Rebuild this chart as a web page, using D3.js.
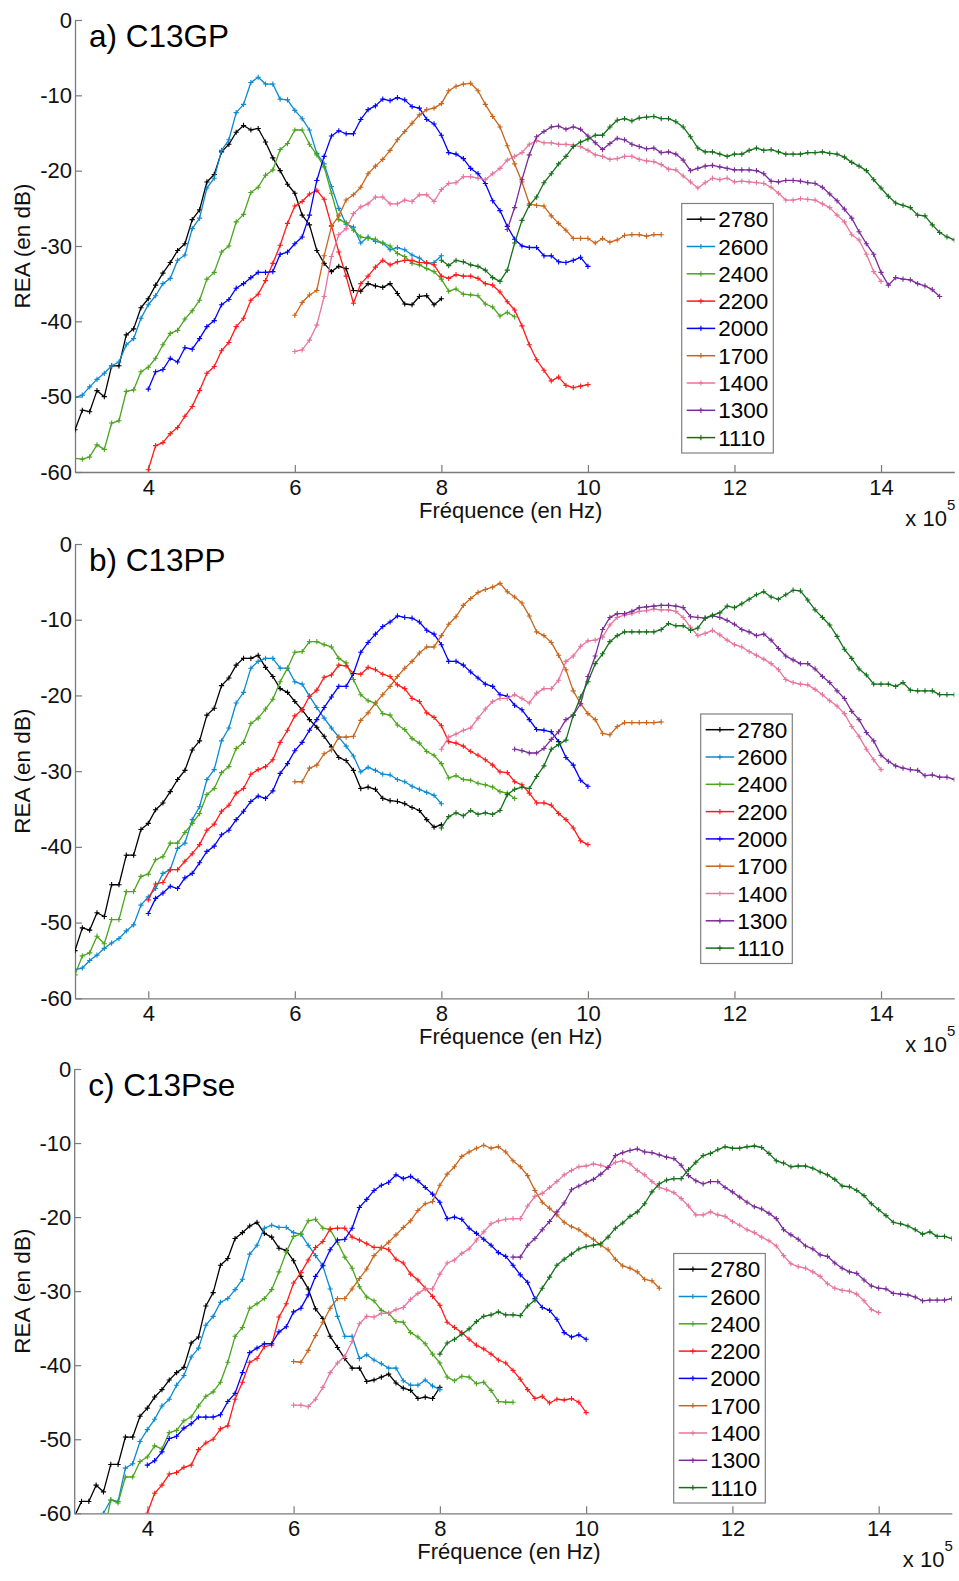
<!DOCTYPE html>
<html>
<head>
<meta charset="utf-8">
<script src="https://cdn.jsdelivr.net/npm/d3@7"></script>
<style>
  html, body { margin: 0; padding: 0; background: #fff; }
  svg { display: block; font-family: Arial, "Liberation Sans", sans-serif; }
</style>
</head>
<body>
<div id="chart"></div>
<script>
// series labels and colours, same order in every panel
const seriesNames = ['2780', '2600', '2400', '2200', '2000', '1700', '1400', '1300', '1110'];
const seriesColors = ['#000000', '#0a8ad2', '#4aa51c', '#ff1a1a', '#0000ff', '#c8651a', '#e8759a', '#7a2a9a', '#15701a'];

const xTicks = [4, 6, 8, 10, 12, 14];
const yTicks = [0, -10, -20, -30, -40, -50, -60];
const freqStep = 0.1; // measurements every 10 kHz (x 10^5 Hz axis)

// first frequency of each series (x 10^5 Hz)
const startsA = [3.0, 3.0, 3.0, 4.0, 4.0, 6.0, 6.0, 8.9, 8.0];
const startsB = [3.0, 3.0, 3.0, 4.0, 4.0, 6.0, 8.0, 9.0, 8.0];
const startsC = [3.0, 3.4, 3.4, 4.0, 4.0, 6.0, 6.0, 9.0, 8.0];

// panel a) C13GP, REA in dB
const a2780 = [-54.4,-51.8,-52,-49.2,-50,-45.9,-45.9,-41.8,-41,-38.2,-37,-35.2,-33.6,-32.2,-30.6,-29.7,-26.5,-25.2,-21.5,-20.5,-17.5,-16.5,-14.9,-14,-14.6,-14.4,-16.2,-18.3,-20,-21.8,-23,-25.9,-27.2,-30.6,-32.3,-33.4,-32.7,-33,-35.9,-36,-35,-35.3,-35.5,-35,-36.3,-37.7,-37.8,-36.7,-36.6,-37.8,-37];
const a2600 = [-50.1,-49.8,-48.7,-47.7,-46.9,-45.9,-45.4,-43.1,-42.3,-39.6,-37.8,-36.6,-35,-34.3,-31.9,-31.2,-27.7,-26.3,-22.3,-21,-17.3,-15.9,-12.3,-11.2,-8.3,-7.6,-8.5,-8.5,-10.5,-10.6,-12,-13.1,-14.6,-17.7,-19.1,-22.1,-25,-27.1,-27.5,-29.6,-28.8,-29.4,-29.6,-30.5,-30.2,-30.5,-31.2,-31.6,-32.3,-32.2,-31.3];
const a2400 = [-58.2,-58.3,-58,-56.4,-57,-53.5,-53.2,-49.3,-49.1,-46.7,-46.1,-44.9,-43.1,-41.6,-41.2,-39.7,-38.6,-37.2,-34.4,-33.5,-30.8,-30,-26.8,-25.8,-22.9,-22.2,-20.6,-19.9,-17.2,-16.4,-14.6,-14.6,-16.5,-17.9,-19.5,-23,-26.5,-26.9,-27.9,-28.8,-29,-29.1,-29.6,-30,-31,-31.4,-32.3,-32.5,-33,-33.4,-34.4,-36,-35.7,-36.4,-36.5,-36.6,-37.7,-38.1,-39.3,-38.8,-39.4];
const a2200 = [-59.7,-56.5,-56.1,-54.9,-54.1,-52.6,-51.3,-49.2,-46.9,-46,-43.9,-42.8,-40.7,-39.6,-37.2,-36.4,-34.6,-32.3,-29.9,-27,-24.7,-24.1,-23.1,-22.6,-23.8,-27.3,-30.8,-34,-37.6,-35,-34,-32.8,-31.9,-32.5,-32.1,-31.9,-31.9,-32.2,-32.2,-32.5,-34,-34.3,-33.8,-34,-34,-34.3,-35,-35.2,-36.1,-37.4,-38.5,-40.6,-43.1,-45.1,-46.5,-47.9,-47.4,-48.5,-48.8,-48.6,-48.4];
const a2000 = [-49,-46.7,-46.4,-44.9,-45.4,-43.5,-43.7,-42.3,-40.7,-39.9,-37.8,-37.1,-35.6,-35,-34.2,-33.5,-33.5,-33.4,-31.1,-30.8,-29.7,-28.8,-25.9,-21.3,-18.1,-15.4,-14.7,-15.1,-15.1,-13.2,-11.9,-11.4,-10.5,-10.7,-10.3,-10.6,-11.5,-11.7,-13.2,-13.8,-15.3,-17.6,-17.8,-18.4,-19.7,-20.4,-21.7,-24,-25.3,-27.4,-29.1,-30,-30.2,-30.2,-31.3,-31.3,-32.1,-32.2,-31.9,-31.5,-32.7];
const a1700 = [-39.2,-37.5,-36.5,-35.9,-31.3,-27.4,-26,-23.9,-23.2,-22.2,-20.4,-19.4,-18.5,-17.3,-15.9,-14.8,-13.7,-12.6,-11.9,-11.7,-11.1,-9.4,-8.8,-8.5,-8.4,-9.4,-11.2,-12.8,-14.2,-16.7,-19.1,-21.5,-24.4,-24.6,-24.7,-26,-27,-27.9,-29,-29,-29,-29.6,-29,-29.5,-29.2,-28.6,-28.5,-28.5,-28.7,-28.5,-28.5];
const a1400 = [-44,-43.8,-42.5,-40.5,-36.7,-31.4,-28.5,-27.7,-25.7,-24.8,-24.4,-23.5,-23.5,-24.4,-24.4,-23.9,-24.1,-23.2,-23.2,-24.1,-22.5,-21.7,-21.6,-20.8,-20.8,-21,-21.2,-20.4,-19.7,-18.6,-18.1,-17.6,-16.5,-16,-16.3,-16.3,-16.5,-16.5,-16.6,-16.8,-17.3,-17.9,-18.1,-18.5,-18.4,-18.1,-18.1,-18.5,-18.7,-18.8,-19.2,-19.8,-19.9,-20.7,-21.5,-22.3,-21.6,-21,-21.2,-21,-21.5,-21.4,-21.5,-21.6,-21.7,-22.2,-23,-23.9,-23.9,-23.7,-23.8,-23.9,-24.4,-24.9,-25.9,-26.8,-28.5,-29.2,-31.1,-33.4,-34.7];
const a1300 = [-27.8,-24.9,-21.2,-17.9,-15.5,-14.8,-14.2,-14.1,-14.5,-14.2,-14.5,-15.4,-16.3,-17.2,-16.4,-15.7,-15.9,-16.5,-16.8,-17.1,-17,-17.6,-17.5,-17.8,-18.6,-20,-19.7,-19.4,-19.3,-19.5,-19.7,-19.9,-19.9,-19.9,-20,-20.4,-21.4,-21.5,-21.3,-21.3,-21.4,-21.6,-21.7,-22.2,-23.1,-24,-25.1,-26.3,-28.1,-29.7,-31.1,-33.5,-35.2,-34.2,-34.4,-34.5,-35,-35.3,-35.8,-36.7];
const a1110 = [-31.9,-32.6,-31.9,-32.1,-32.5,-32.7,-33.2,-34.2,-34.7,-33.2,-29.6,-26.6,-24.6,-23.5,-21.6,-20.4,-19.1,-18.1,-16.8,-16.2,-15.8,-15.3,-15.3,-14.2,-13.3,-13.1,-13.4,-13,-12.9,-12.8,-13.1,-13.1,-13.5,-14.2,-15.5,-17,-17.5,-17.5,-17.8,-18.1,-17.8,-17.8,-17.3,-17,-17.3,-17.2,-17.5,-17.8,-17.8,-17.8,-17.6,-17.6,-17.5,-17.7,-17.8,-18.2,-18.9,-19.4,-20,-21.2,-22.3,-23.4,-24.3,-24.6,-24.9,-25.9,-26,-27.2,-28.2,-28.8,-29.2];

// panel b) C13PP
const b2780 = [-53.7,-50.7,-51,-48.7,-49.2,-45,-45,-41.1,-41.1,-37.7,-36.9,-35.1,-34.2,-32.7,-31.1,-29.9,-27.2,-26,-22.6,-21.7,-18.7,-17.7,-16,-15.1,-15.1,-14.7,-16.3,-17.5,-19.1,-19.6,-20.8,-21.9,-23.2,-24.2,-25.4,-26.8,-28.2,-28.6,-29.9,-32.3,-32.1,-32.4,-33.6,-33.9,-34,-34.3,-34.8,-35.2,-36.4,-37.4,-37.1];
const b2600 = [-56.2,-56,-55,-54.3,-53.4,-52.7,-52.1,-51.1,-50.3,-47.7,-46.6,-45.5,-43.5,-43,-40.2,-39.5,-36.4,-34.7,-31.1,-29.8,-26,-24.3,-21,-19.6,-16.4,-15.5,-15.1,-15.1,-16.4,-16.4,-18.2,-18.5,-20.1,-21.6,-23,-24.3,-25.5,-26.7,-28,-30.1,-29.5,-29.9,-30.4,-30.5,-31.1,-31.4,-32,-32.4,-32.8,-33.2,-34.3];
const b2400 = [-56.9,-54.4,-54,-51.8,-52.8,-49.6,-49.6,-45.9,-45.9,-43.9,-43.6,-41.7,-41.3,-39.5,-39.5,-38.1,-36.9,-35.6,-33.1,-32.3,-30.2,-29.4,-27,-26.2,-23.7,-23,-21.8,-20.5,-18.2,-16.4,-14.3,-14.2,-12.9,-12.9,-13.3,-13.6,-15.1,-15.7,-17.9,-19.9,-20.7,-21,-22.4,-22.6,-23.9,-24.5,-25.7,-26.3,-27.4,-27.9,-29,-30.9,-30.6,-31.1,-31.2,-31.6,-31.8,-32.1,-32.7,-32.9,-33.6];
const b2200 = [-47,-44.9,-44.7,-43,-43,-41.9,-40.9,-39.7,-37.8,-37,-35.3,-34.5,-32.9,-32.3,-30.4,-29.8,-29.4,-28.5,-26.2,-24.6,-22.7,-21.9,-20.1,-19.3,-17.6,-17.3,-16,-16.1,-17.1,-17.2,-16.3,-16.6,-17.2,-17.5,-18.6,-19.1,-20.4,-20.8,-22.3,-22.9,-24,-26.1,-26.3,-26.7,-27.4,-27.9,-28.5,-29.2,-30.1,-30.2,-31.4,-31.8,-32.9,-34.2,-34.2,-34.5,-35.6,-36.4,-37.5,-39.2,-39.7];
const b2000 = [-48.8,-46.8,-46.1,-45.2,-45.5,-44.1,-43.5,-42.1,-40.6,-39.9,-38.4,-37.8,-36.4,-35.3,-34,-33.3,-33.6,-32.6,-30.3,-29,-27.3,-26.2,-24.6,-23.2,-21.6,-20.2,-18.8,-18.8,-17.1,-14.3,-13,-11.9,-10.9,-10.3,-9.5,-9.7,-9.8,-10.3,-11.4,-11.9,-13.3,-15.5,-15.5,-16,-16.9,-17.7,-18.5,-18.8,-19.9,-20.1,-21.3,-21.9,-23.2,-24.5,-24.6,-24.8,-26.1,-28.2,-29.2,-31.2,-32];
const b1700 = [-31.4,-31.4,-29.6,-29.2,-27.7,-27.2,-25.5,-25.5,-25.4,-23.3,-22.3,-21,-19.9,-18.8,-17.5,-16.4,-15.5,-14.4,-13.6,-13.6,-12.1,-10.6,-9.6,-8.1,-7.2,-6.4,-6,-5.7,-5.2,-6.3,-7,-7.8,-9.5,-11.6,-12.1,-13,-14.7,-16.6,-19.4,-21.1,-22.4,-23.2,-25,-25.2,-24.1,-23.6,-23.6,-23.6,-23.6,-23.6,-23.5];
const b1400 = [-27.1,-25.5,-25.1,-24.6,-24.3,-23,-21.8,-20.8,-20.4,-20.4,-19.9,-20.4,-21,-19.7,-19.1,-19.1,-18,-15.5,-14.8,-13.5,-12.8,-12.7,-12.3,-10.7,-9.7,-9.4,-9.2,-8.9,-8.8,-8.6,-8.7,-8.7,-8.9,-9.7,-11,-12.1,-11.8,-11.4,-12,-12.7,-13.3,-13.6,-14.2,-14.7,-15.2,-15.8,-16.6,-17.9,-18.3,-18.5,-18.6,-19.2,-19.9,-20.7,-21.4,-22.4,-24.1,-25.4,-27.1,-28.5,-29.8];
const b1300 = [-27.1,-27.3,-27.6,-27.6,-27,-25.8,-24.8,-23.2,-22.6,-21.1,-17.5,-14.8,-11.3,-9.7,-9.2,-9.2,-8.9,-8.4,-8.3,-8.2,-8.1,-8.1,-8.2,-8.4,-9.6,-9.7,-9.8,-9.5,-9.7,-10.1,-10.6,-11.3,-11.6,-12.1,-11.9,-12.7,-13.8,-14.8,-15.3,-15.8,-15.8,-16.5,-17.5,-18.3,-19.4,-20.4,-22.1,-23.2,-24.9,-26,-27.9,-28.7,-29.3,-29.6,-29.8,-29.9,-30.6,-30.5,-30.8,-30.8,-31.1];
const b1110 = [-37.5,-36,-35.5,-35.9,-35.2,-35.7,-35.5,-35.7,-35.2,-33.1,-32.4,-32.1,-32.3,-30.7,-29.3,-27.1,-26.5,-25.9,-22.6,-20.2,-18.2,-15.8,-14.5,-12.9,-12.1,-11.6,-11.6,-11.6,-11.6,-11.6,-11.3,-10.5,-10.8,-10.8,-11.4,-11.1,-9.8,-9.4,-9.1,-8.2,-8.4,-7.9,-7.3,-6.7,-6.3,-7,-7.3,-6.7,-6.1,-6.2,-7.4,-8.7,-9.7,-10.7,-12.2,-13.9,-15.1,-16.5,-17.3,-18.5,-18.5,-18.5,-18.8,-18.3,-19.3,-19.4,-19.4,-19.4,-19.9,-19.9,-19.9];

// panel c) C13Pse
const c2780 = [-60.5,-58.4,-58.4,-56.2,-57.1,-53.4,-53.4,-49.7,-49.7,-46.9,-45.8,-44.3,-43.3,-42,-41,-40.3,-37,-36.2,-32,-30.2,-26.5,-25.6,-22.9,-22.1,-21.2,-20.7,-22.2,-22.7,-24.2,-24.5,-25.9,-28,-29.7,-32.4,-33.7,-36.1,-37.6,-39.1,-40.4,-40.4,-42.2,-42,-41.6,-41.2,-42.4,-43.1,-43.4,-44.5,-44.3,-44.5,-43];
const c2600 = [-60,-58.2,-58.4,-53.9,-53.3,-50.3,-48.7,-47.3,-45.5,-44.6,-42.7,-41.4,-38.9,-37.7,-34.6,-33.4,-31.5,-31,-29.8,-28.4,-25,-23.8,-21.5,-21.1,-21.4,-21.4,-22.1,-22.3,-23.8,-25.2,-26.6,-29.7,-33.4,-36.1,-36.1,-39.1,-38.6,-39.3,-39.8,-40.4,-40.4,-42.1,-42.7,-42.7,-42,-42.8,-43.3];
const c2400 = [-63,-58.2,-58.6,-55.1,-55.1,-53,-52.4,-50.9,-51.3,-49.1,-48.8,-47.5,-47,-45.5,-44.2,-43.6,-42.3,-39.6,-36.1,-34.9,-32.3,-31.7,-31,-29.8,-27.4,-24.7,-22.6,-22.3,-20.5,-20.3,-21.5,-21.7,-23.4,-25.4,-26.9,-29.4,-30.8,-31.3,-32.6,-33,-34.1,-34.2,-35.6,-36.2,-37.1,-38.5,-39.7,-41.6,-42.1,-41.5,-41.6,-42.5,-42.3,-43.4,-44.9,-45,-45];
const c2200 = [-60,-57.3,-56.2,-54.7,-54.5,-53.8,-53.5,-51.4,-50.5,-50,-48.6,-48.2,-44.6,-42.3,-39.6,-39.1,-37.5,-37.3,-33.5,-31.7,-28.9,-27.5,-25.8,-24.1,-23.3,-21.6,-21.5,-21.5,-22.7,-23.1,-23.6,-24.1,-24.1,-24.4,-25.7,-26.2,-27.7,-28.5,-29.6,-30.7,-31.9,-34.2,-34.9,-35.6,-36.5,-37.3,-37.8,-38.5,-39.3,-39.7,-40.7,-41.9,-43.3,-44.5,-44.2,-45.1,-44.6,-44.7,-44.5,-45,-46.4];
const c2000 = [-53.5,-52.9,-51.7,-49.9,-49.6,-48.5,-47.9,-47,-47,-47,-46.7,-44.9,-43.8,-41,-38.3,-37.7,-37.1,-37.1,-35.5,-34.8,-32.8,-32.3,-30.5,-28,-26.5,-24.4,-23.1,-23,-21.5,-18.7,-17.6,-16.4,-15.7,-15.3,-14.3,-14.8,-14.5,-15.1,-16,-16.9,-18,-20.2,-20,-20.3,-21.5,-22.2,-23,-23.8,-24.8,-25.3,-26.5,-27.8,-28.8,-31,-32.2,-32.6,-33.8,-35.6,-36.2,-35.9,-36.5];
const c1700 = [-39.5,-39.6,-38,-36,-34.2,-32.3,-31,-31,-29.7,-28.3,-27,-25.2,-24.2,-23.4,-22.4,-21.4,-20.5,-19.1,-18.2,-17.9,-15.7,-14.2,-13.2,-11.8,-11.2,-10.7,-10.3,-10.7,-10.5,-11.2,-12.4,-13.2,-14.4,-16.4,-18,-18.8,-19.7,-20.7,-21.3,-21.7,-22.4,-23,-23.8,-24.4,-25.7,-26.6,-26.9,-27.4,-28.4,-28.6,-29.6];
const c1400 = [-45.4,-45.4,-45.6,-44.6,-43,-41,-39.7,-38.8,-36.8,-34.4,-33.4,-33.5,-33,-33,-32.5,-32.2,-31.1,-30.3,-29.7,-29.7,-27.7,-26.2,-25.8,-24.9,-24.3,-23.1,-22,-20.9,-20.5,-20.3,-20.2,-20.2,-18.5,-17.2,-16.8,-16,-15.2,-14.3,-13.7,-13.2,-13.1,-12.8,-13,-13.3,-12.6,-12.4,-12.8,-13.7,-14.3,-15.2,-16,-16.3,-16.7,-17.5,-18.5,-19.7,-19.7,-19.3,-19.7,-19.9,-20.6,-21.1,-21.7,-22.1,-22.7,-23.2,-23.9,-25.2,-26.3,-26.7,-26.9,-27.4,-28,-29,-29.6,-29.9,-30,-30.4,-31.3,-32.5,-32.9];
const c1300 = [-25.4,-25.4,-23.8,-22.9,-21.7,-20.6,-19.3,-18.1,-16.3,-15.8,-15.3,-14.9,-14.2,-13.3,-11.7,-11.3,-11,-10.8,-11.2,-11.3,-11.6,-11.9,-12.1,-13,-14.4,-15.1,-15.5,-15.2,-15.2,-16,-16.6,-17.3,-18,-18.6,-18.9,-19.5,-20.2,-21.7,-22.4,-23,-23.9,-24.3,-25.1,-25.3,-26.2,-26.9,-27.4,-27.6,-28.5,-29.3,-29.6,-29.7,-30.3,-30.4,-30.5,-30.8,-31.3,-31.2,-31.2,-31.2,-31];
const c1110 = [-38.5,-37,-36.5,-35.8,-35.1,-34.1,-33.4,-33.2,-32.8,-33.2,-33.2,-33.3,-32,-31.2,-29.6,-28.1,-26.5,-25.7,-25,-24.3,-24,-23.8,-23.6,-22.7,-21.5,-20.8,-19.9,-19.3,-18.2,-16.6,-15.5,-15,-14.8,-14.8,-13.6,-12.6,-11.7,-11.4,-10.9,-10.5,-10.7,-10.7,-10.5,-10.4,-10.6,-11.4,-12.4,-12.7,-13.2,-13.1,-13.1,-13.4,-13.9,-14.3,-14.9,-15.8,-15.9,-16.4,-17.1,-18.2,-19,-19.8,-20.7,-20.9,-21.2,-21.7,-22.3,-22,-22.6,-22.6,-22.9];

// layout of the three stacked panels (pixel boxes, legend corner)
const panels = [
  { title: 'a) C13GP', starts: startsA, values: [a2780, a2600, a2400, a2200, a2000, a1700, a1400, a1300, a1110],
    left: 75, right: 954.3, top: 20, bottom: 472, legendX: 681.7, legendY: 203.5 },
  { title: 'b) C13PP', starts: startsB, values: [b2780, b2600, b2400, b2200, b2000, b1700, b1400, b1300, b1110],
    left: 75, right: 954.3, top: 544, bottom: 998.3, legendX: 700.7, legendY: 714 },
  { title: 'c) C13Pse', starts: startsC, values: [c2780, c2600, c2400, c2200, c2000, c1700, c1400, c1300, c1110],
    left: 74.2, right: 951.8, top: 1069, bottom: 1513.3, legendX: 673.7, legendY: 1253.5 }
];

const W = 959, H = 1581;
const FONT = 22;
const AXIS_GRAY = '#7a7a7a';

const svg = d3.select('#chart').append('svg')
  .attr('width', W)
  .attr('height', H);

// small "+" marker path centered on 0,0
function plusPath(s) {
  return `M${-s},0H${s}M0,${-s}V${s}`;
}

function drawPanel(p, idx) {
  const x = d3.scaleLinear().domain([3, 15]).range([p.left, p.right]);
  const y = d3.scaleLinear().domain([-60, 0]).range([p.bottom, p.top]);

  const g = svg.append('g');

  // clip lines to the axes box
  const clipId = 'clip' + idx;
  g.append('clipPath').attr('id', clipId)
    .append('rect')
    .attr('x', p.left).attr('y', p.top - 1)
    .attr('width', p.right - p.left).attr('height', p.bottom - p.top + 1);

  // axes, matlab style: ticks pointing inward, no box, plain hyphen minus
  const fmt = d => String(d);
  const xAxis = g.append('g')
    .attr('transform', `translate(0,${p.bottom})`)
    .call(d3.axisBottom(x).tickValues(xTicks).tickFormat(fmt).tickSizeInner(-7).tickSizeOuter(0).tickPadding(7));
  const yAxis = g.append('g')
    .attr('transform', `translate(${p.left},0)`)
    .call(d3.axisLeft(y).tickValues(yTicks).tickFormat(fmt).tickSizeInner(-7).tickSizeOuter(0).tickPadding(3));

  [xAxis, yAxis].forEach(ax => {
    ax.select('.domain').attr('stroke', AXIS_GRAY).attr('stroke-width', 1.3);
    ax.selectAll('.tick line').attr('stroke', AXIS_GRAY).attr('stroke-width', 1.2);
    ax.selectAll('.tick text')
      .attr('fill', '#111')
      .style('font-size', FONT + 'px')
      .style('font-family', 'Arial, "Liberation Sans", sans-serif');
  });

  // data lines + markers
  const line = d3.line().x(d => x(d.f)).y(d => y(d.v));
  const plot = g.append('g').attr('clip-path', `url(#${clipId})`);

  p.values.forEach((vals, i) => {
    const pts = vals.map((v, k) => ({ f: Math.round((p.starts[i] + k * freqStep) * 10) / 10, v }));
    const color = seriesColors[i];
    const sg = plot.append('g');
    sg.append('path')
      .datum(pts)
      .attr('fill', 'none')
      .attr('stroke', color)
      .attr('stroke-width', 1.3)
      .attr('stroke-linejoin', 'round')
      .attr('d', line);
    sg.selectAll('path.mk')
      .data(pts)
      .enter()
      .append('path')
      .attr('class', 'mk')
      .attr('transform', d => `translate(${x(d.f)},${y(d.v)})`)
      .attr('d', plusPath(2.6))
      .attr('stroke', color)
      .attr('stroke-width', 1.1);
  });

  // panel title inside the axes
  g.append('text')
    .attr('x', p.left + 14)
    .attr('y', p.top + 27)
    .style('font-size', '31.5px')
    .attr('fill', '#000')
    .text(p.title);

  // axis titles
  g.append('text')
    .attr('transform', `translate(${30},${(p.top + p.bottom) / 2}) rotate(-90)`)
    .attr('text-anchor', 'middle')
    .style('font-size', '22.5px')
    .attr('fill', '#111')
    .text('REA (en dB)');

  g.append('text')
    .attr('x', (p.left + p.right) / 2 - 4)
    .attr('y', p.bottom + 46)
    .attr('text-anchor', 'middle')
    .style('font-size', FONT + 'px')
    .attr('fill', '#111')
    .text('Fréquence (en Hz)');

  // exponent label under the right end
  const ex = g.append('text')
    .attr('x', p.right - 49)
    .attr('y', p.bottom + 54)
    .style('font-size', FONT + 'px')
    .attr('fill', '#111');
  ex.append('tspan').text('x 10');
  ex.append('tspan')
    .attr('dy', -16)
    .style('font-size', '15px')
    .text('5');

  // legend
  const rowH = 27.3;
  const lg = g.append('g').attr('transform', `translate(${p.legendX},${p.legendY})`);
  lg.append('rect')
    .attr('width', 91.6)
    .attr('height', 249.5)
    .attr('fill', '#fff')
    .attr('stroke', '#808080')
    .attr('stroke-width', 1.2);
  seriesNames.forEach((name, i) => {
    const cy = 15.7 + i * rowH;
    lg.append('line')
      .attr('x1', 5).attr('x2', 33.5)
      .attr('y1', cy).attr('y2', cy)
      .attr('stroke', seriesColors[i])
      .attr('stroke-width', 1.5);
    lg.append('path')
      .attr('transform', `translate(19.2,${cy})`)
      .attr('d', plusPath(2.6))
      .attr('stroke', seriesColors[i])
      .attr('stroke-width', 1.1);
    lg.append('text')
      .attr('x', 36.5)
      .attr('y', cy + 8)
      .style('font-size', '22.5px')
      .attr('fill', '#000')
      .text(name);
  });
}

panels.forEach(drawPanel);
</script>
</body>
</html>
